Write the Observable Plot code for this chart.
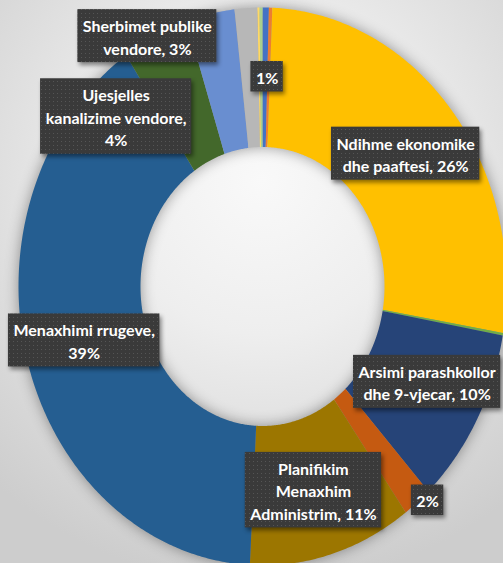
<!DOCTYPE html>
<html><head><meta charset="utf-8">
<script src="https://cdn.jsdelivr.net/npm/d3@7"></script>
<script src="https://cdn.jsdelivr.net/npm/@observablehq/plot@0.6"></script>
<style>
html,body{margin:0;padding:0;width:503px;height:563px;overflow:hidden;}
body{background: radial-gradient(ellipse 80% 72% at 52% 32%, #f9f9f9 0%, #eeeeee 38%, #dadada 75%, #cdcdcd 100%);}
#chart svg [aria-label="line"]{filter: drop-shadow(0 0 7px rgba(0,0,0,0.38));}
#chart svg [aria-label="rect"]{filter: drop-shadow(2px 3px 2px rgba(0,0,0,0.45));}
</style></head><body><div id="chart"></div>
<script>
// ---- data (clockwise from 12 o'clock) ----
const categories = ["Tjeter A", "Tjeter B", "Ndihme ekonomike dhe paaftesi", "Tjeter C",
  "Arsimi parashkollor dhe 9-vjecar", "Tjeter D", "Planifikim Menaxhim Administrim",
  "Menaxhimi rrugeve", "Ujesjelles kanalizime vendore", "Sherbimet publike vendore",
  "Tjeter E", "Tjeter F", "Tjeter G"];
const values = [0.42, 0.22, 27.0, 0.14, 10.3, 1.9, 10.8, 39.7, 4.4, 3.2, 1.5, 0.14, 0.19];
const colors = ["#4472C4", "#ED7D31", "#FFC000", "#70AD47", "#264478", "#C55A11", "#9C7600",
  "#255E91", "#43682B", "#698ED0", "#B7B7B7", "#FFD966", "#A9D18E"];
const labels = ["", "", "Ndihme ekonomike\ndhe paaftesi, 26%", "", "Arsimi parashkollor\ndhe 9-vjecar, 10%",
  "2%", "Planifikim\nMenaxhim\nAdministrim, 11%", "Menaxhimi rrugeve,\n39%",
  "Ujesjelles\nkanalizime vendore,\n4%", "Sherbimet publike\nvendore, 3%", "1%", "", ""];
// label placement nudges (px) from the slice mid-point
const labelNudgeX = [0, 0, 1, 0, 4, 49, -1, -2, -66, -76, 17, 0, 0];
const labelNudgeY = [0, 0, -1, 0, -5, 52, 3, -2, 18, -46, -1, 0, 0];

// ---- layout ----
const W = 503, H = 563;
const cx = 262, cy = 286, rx = 244, ry = 279;
const innerRatio = 0.5, labelK = 0.75;
const fontSize = 16, lineH = 22.5, padX = 5, padY = 4;
const font = "Lato, 'Open Sans', sans-serif";

const total = d3.sum(values);
let acc = 0;
const slices = values.map((v, i) => {
  const a0 = acc / total * 2 * Math.PI; acc += v;
  const a1 = acc / total * 2 * Math.PI;
  return {i, cat: categories[i], color: colors[i], a0, a1, label: labels[i]};
});
const pts = [];
for (const s of slices) {
  const n = Math.max(2, Math.ceil((s.a1 - s.a0) / (Math.PI / 360)));
  for (let k = 0; k <= n; k++) { const a = s.a0 + (s.a1 - s.a0) * k / n; pts.push({key: s.i, color: s.color, x: Math.sin(a), y: Math.cos(a)}); }
  for (let k = n; k >= 0; k--) { const a = s.a0 + (s.a1 - s.a0) * k / n; pts.push({key: s.i, color: s.color, x: innerRatio * Math.sin(a), y: innerRatio * Math.cos(a)}); }
}

const ctx = document.createElement("canvas").getContext("2d");
ctx.font = `bold ${fontSize}px Lato`;
const lab = slices.filter(s => s.label).map(s => {
  const m = (s.a0 + s.a1) / 2;
  const x = labelK * Math.sin(m) + labelNudgeX[s.i] / rx;
  const y = labelK * Math.cos(m) - labelNudgeY[s.i] / ry;
  const lines = s.label.split("\n");
  const w = d3.max(lines, l => ctx.measureText(l).width) + 2 * padX;
  const h = lines.length * lineH + 2 * padY;
  return {text: s.label, x, y, x1: x - w / 2 / rx, x2: x + w / 2 / rx, y1: y - h / 2 / ry, y2: y + h / 2 / ry};
});

const chart = Plot.plot({
  width: W, height: H,
  margin: 0,
  style: {background: "transparent"},
  x: {domain: [-cx / rx, (W - cx) / rx], axis: null},
  y: {domain: [-(H - cy) / ry, cy / ry], axis: null},
  color: {type: "identity"},
  marks: [
    Plot.line(pts, {x: "x", y: "y", z: "key", fill: "color", stroke: "none", clip: true}),
    Plot.rect(lab, {x1: "x1", x2: "x2", y1: "y1", y2: "y2", fill: "url(#boxdots)", clip: true}),
    Plot.text(lab, {x: "x", y: "y", text: "text", fill: "white", fontSize, fontWeight: "bold",
      fontFamily: font, lineHeight: lineH / fontSize, textAnchor: "middle"})
  ]
});
// dotted texture for the label boxes
const defs = d3.select(chart).insert("defs", ":first-child");
const pat = defs.append("pattern").attr("id", "boxdots").attr("patternUnits", "userSpaceOnUse")
  .attr("width", 4).attr("height", 4);
pat.append("rect").attr("width", 4).attr("height", 4).attr("fill", "#3a3a3a");
pat.append("rect").attr("x", 1).attr("y", 1).attr("width", 1).attr("height", 1).attr("fill", "#555555");
document.getElementById("chart").appendChild(chart);
</script></body></html>
